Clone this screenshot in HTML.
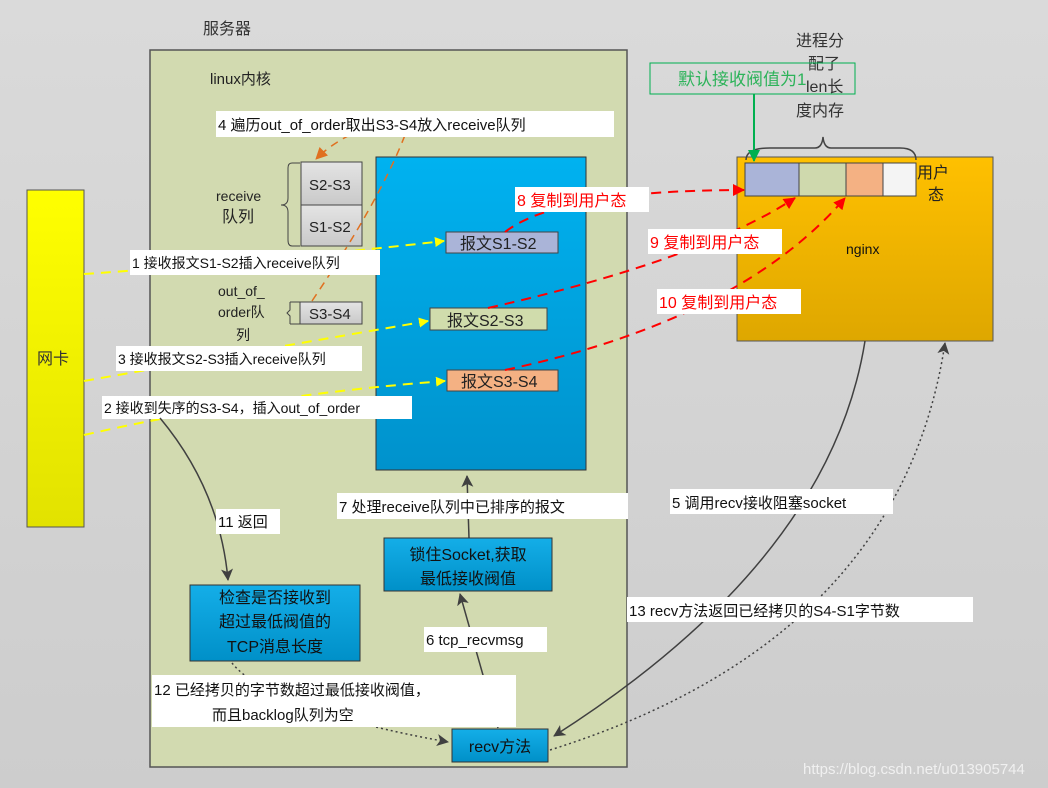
<!DOCTYPE html>
<html><head><meta charset="utf-8"><style>
html,body{margin:0;padding:0;background:#d6d6d6;}
svg{display:block;font-family:"Liberation Sans","Noto Sans CJK SC",sans-serif;}
</style></head><body>
<svg width="1048" height="788" viewBox="0 0 1048 788" xmlns="http://www.w3.org/2000/svg">
<defs>
<linearGradient id="bg" x1="0" y1="0" x2="0" y2="1"><stop offset="0" stop-color="#dadada"/><stop offset="1" stop-color="#cdcdcd"/></linearGradient>
<linearGradient id="blue" x1="0" y1="0" x2="0" y2="1"><stop offset="0" stop-color="#00b2f0"/><stop offset="1" stop-color="#0092cc"/></linearGradient>
<linearGradient id="blue2" x1="0" y1="0" x2="0" y2="1"><stop offset="0" stop-color="#14aee8"/><stop offset="1" stop-color="#0090c8"/></linearGradient>
<linearGradient id="yel" x1="0" y1="0" x2="0" y2="1"><stop offset="0" stop-color="#ffff00"/><stop offset="1" stop-color="#e2e200"/></linearGradient>
<linearGradient id="org" x1="0" y1="0" x2="0" y2="1"><stop offset="0" stop-color="#ffc000"/><stop offset="1" stop-color="#dea700"/></linearGradient>
<linearGradient id="gry" x1="0" y1="0" x2="0" y2="1"><stop offset="0" stop-color="#e4e4e4"/><stop offset="1" stop-color="#c9c9c9"/></linearGradient>
<marker id="ay" markerWidth="10" markerHeight="10" refX="9" refY="5" orient="auto" markerUnits="userSpaceOnUse"><path d="M0,0 L10,5 L0,10 z" fill="#ffff00"/></marker>
<marker id="ar" markerWidth="12" markerHeight="12" refX="11" refY="6" orient="auto" markerUnits="userSpaceOnUse"><path d="M0,0 L12,6 L0,12 z" fill="#ff0000"/></marker>
<marker id="ao" markerWidth="12" markerHeight="12" refX="11" refY="6" orient="auto" markerUnits="userSpaceOnUse"><path d="M0,0 L12,6 L0,12 z" fill="#e07020"/></marker>
<marker id="ag" markerWidth="12" markerHeight="12" refX="11" refY="6" orient="auto" markerUnits="userSpaceOnUse"><path d="M0,0 L12,6 L0,12 z" fill="#00b050"/></marker>
<marker id="ak" markerWidth="12" markerHeight="12" refX="11" refY="6" orient="auto" markerUnits="userSpaceOnUse"><path d="M0,0 L12,6 L0,12 L3,6 z" fill="#404040"/></marker>
</defs>
<rect width="1048" height="788" fill="url(#bg)"/>
<text x="203" y="34" font-size="16" fill="#333">服务器</text>
<rect x="150" y="50" width="477" height="717" fill="#d2dab0" stroke="#555" stroke-width="1.5"/>
<text x="210" y="84" font-size="15" fill="#222">linux内核</text>
<rect x="376" y="157" width="210" height="313" fill="url(#blue)" stroke="#333"/>
<rect x="27" y="190" width="57" height="337" fill="url(#yel)" stroke="#555"/>
<text x="37" y="364" font-size="16" fill="#333">网卡</text>
<rect x="737" y="157" width="256" height="184" fill="url(#org)" stroke="#555"/>
<text x="846" y="254" font-size="14" fill="#111">nginx</text>
<text x="917" y="178" font-size="16" fill="#222">用户</text>
<text x="928" y="200" font-size="16" fill="#222">态</text>
<rect x="745" y="163" width="54" height="33" fill="#aab4d8" stroke="#444"/>
<rect x="799" y="163" width="47" height="33" fill="#cfd9ad" stroke="#444"/>
<rect x="846" y="163" width="37" height="33" fill="#f4b183" stroke="#444"/>
<rect x="883" y="163" width="33" height="33" fill="#f4f4f4" stroke="#444"/>
<path d="M746,160 Q746,148 770,148 L815,148 Q822,148 823,137 Q824,148 831,148 L900,148 Q916,148 916,160" fill="none" stroke="#444" stroke-width="1.5"/>
<text font-size="16" fill="#333"><tspan x="796" y="46">进程分</tspan><tspan x="808" y="69">配了</tspan><tspan x="806" y="92">len长</tspan><tspan x="796" y="116">度内存</tspan></text>
<rect x="650" y="63" width="205" height="31" fill="none" stroke="#00b050"/>
<text x="678" y="85" font-size="17" fill="#2db35a">默认接收阀值为1</text>
<line x1="754" y1="94" x2="754" y2="161" stroke="#00b050" stroke-width="2" marker-end="url(#ag)"/>
<rect x="301" y="162" width="61" height="43" fill="url(#gry)" stroke="#444"/>
<rect x="301" y="205" width="61" height="41" fill="url(#gry)" stroke="#444"/>
<text x="309" y="190" font-size="15" fill="#222">S2-S3</text>
<text x="309" y="232" font-size="15" fill="#222">S1-S2</text>
<path d="M300,163 L292,163 Q288,163 288,168 L288,198 Q288,205 281,205 Q288,205 288,212 L288,240 Q288,246 292,246 L300,246" fill="none" stroke="#444"/>
<text x="216" y="201" font-size="14" fill="#222">receive</text>
<text x="222" y="222" font-size="16" fill="#222">队列</text>
<rect x="300" y="302" width="62" height="22" fill="url(#gry)" stroke="#444"/>
<line x1="290" y1="302" x2="300" y2="302" stroke="#444"/><line x1="290" y1="324" x2="300" y2="324" stroke="#444"/>
<path d="M290,302 L290,310 L287,313 L290,316 L290,324" fill="none" stroke="#444"/>
<text x="309" y="319" font-size="15" fill="#222">S3-S4</text>
<text font-size="14" fill="#222"><tspan x="218" y="296">out_of_</tspan><tspan x="218" y="317">order队</tspan><tspan x="236" y="340">列</tspan></text>
<rect x="446" y="232" width="112" height="21" fill="#aab4d8" stroke="#444"/>
<text x="460" y="249" font-size="16" fill="#222">报文S1-S2</text>
<rect x="430" y="308" width="117" height="22" fill="#d0dcac" stroke="#444"/>
<text x="447" y="326" font-size="16" fill="#222">报文S2-S3</text>
<rect x="447" y="370" width="111" height="21" fill="#f4b183" stroke="#444"/>
<text x="461" y="387" font-size="16" fill="#222">报文S3-S4</text>
<g stroke="#ffff00" stroke-width="2" stroke-dasharray="10,7" fill="none">
<path d="M84,274 Q260,262 444,241" marker-end="url(#ay)"/>
<path d="M84,381 Q260,350 428,321" marker-end="url(#ay)"/>
<path d="M84,435 Q260,395 445,381" marker-end="url(#ay)"/>
</g>
<g stroke="#e07020" stroke-width="1.5" stroke-dasharray="8,6" fill="none">
<path d="M312,301 Q380,200 405,135"/>
<path d="M350,135 Q330,145 316,159" marker-end="url(#ao)"/>
</g>
<g stroke="#ff0000" stroke-width="2" stroke-dasharray="10,7" fill="none">
<path d="M505,232 Q560,190 744,190" marker-end="url(#ar)"/>
<path d="M488,308 Q700,260 795,198" marker-end="url(#ar)"/>
<path d="M505,370 Q740,320 845,198" marker-end="url(#ar)"/>
</g>
<g font-size="15" fill="#111">
<rect x="216" y="111" width="398" height="26" fill="#fff"/><text x="218" y="130">4 遍历out_of_order取出S3-S4放入receive队列</text>
<rect x="130" y="250" width="250" height="25" fill="#fff"/><text x="132" y="268" font-size="14">1 接收报文S1-S2插入receive队列</text>
<rect x="116" y="346" width="246" height="25" fill="#fff"/><text x="118" y="364" font-size="14">3 接收报文S2-S3插入receive队列</text>
<rect x="102" y="396" width="310" height="23" fill="#fff"/><text x="104" y="413" font-size="14">2 接收到失序的S3-S4，插入out_of_order</text>
</g>
<g font-size="16" fill="#ff0000">
<rect x="515" y="187" width="134" height="25" fill="#fff"/><text x="517" y="206">8 复制到用户态</text>
<rect x="648" y="229" width="134" height="25" fill="#fff"/><text x="650" y="248">9 复制到用户态</text>
<rect x="657" y="289" width="144" height="25" fill="#fff"/><text x="659" y="308">10 复制到用户态</text>
</g>
<g stroke="#404040" stroke-width="1.5" fill="none">
<path d="M160,418 Q220,490 228,580" marker-end="url(#ak)"/>
<path d="M469,538 L467,476" marker-end="url(#ak)"/>
<path d="M498,728 L460,594" marker-end="url(#ak)"/>
<path d="M865,341 Q830,560 554,736" marker-end="url(#ak)"/>
</g>
<g stroke="#404040" stroke-width="1.5" stroke-dasharray="2,3" fill="none">
<path d="M550,750 Q900,640 945,343" marker-end="url(#ak)"/>
<path d="M232,663 Q270,710 448,742" marker-end="url(#ak)"/>
</g>
<rect x="384" y="538" width="168" height="53" fill="url(#blue2)" stroke="#333"/>
<text x="468" y="560" font-size="16" fill="#111" text-anchor="middle">锁住Socket,获取</text>
<text x="468" y="584" font-size="16" fill="#111" text-anchor="middle">最低接收阀值</text>
<rect x="190" y="585" width="170" height="76" fill="url(#blue2)" stroke="#333"/>
<text font-size="16" fill="#111" text-anchor="middle"><tspan x="275" y="603">检查是否接收到</tspan><tspan x="275" y="627">超过最低阀值的</tspan><tspan x="275" y="652">TCP消息长度</tspan></text>
<rect x="452" y="729" width="96" height="33" fill="url(#blue2)" stroke="#333"/>
<text x="500" y="752" font-size="16" fill="#111" text-anchor="middle">recv方法</text>
<g font-size="15" fill="#111">
<rect x="216" y="509" width="64" height="25" fill="#fff"/><text x="218" y="527">11 返回</text>
<rect x="337" y="493" width="291" height="26" fill="#fff"/><text x="339" y="512">7 处理receive队列中已排序的报文</text>
<rect x="670" y="489" width="223" height="25" fill="#fff"/><text x="672" y="508">5 调用recv接收阻塞socket</text>
<rect x="627" y="597" width="346" height="25" fill="#fff"/><text x="629" y="616">13 recv方法返回已经拷贝的S4-S1字节数</text>
<rect x="424" y="627" width="123" height="25" fill="#fff"/><text x="426" y="645">6 tcp_recvmsg</text>
<rect x="152" y="675" width="364" height="52" fill="#fff"/><text x="154" y="695">12 已经拷贝的字节数超过最低接收阀值，</text><text x="212" y="720">而且backlog队列为空</text>
</g>
<text x="803" y="774" font-size="15" fill="#f0f0f0">https://blog.csdn.net/u013905744</text>
</svg>
</body></html>
